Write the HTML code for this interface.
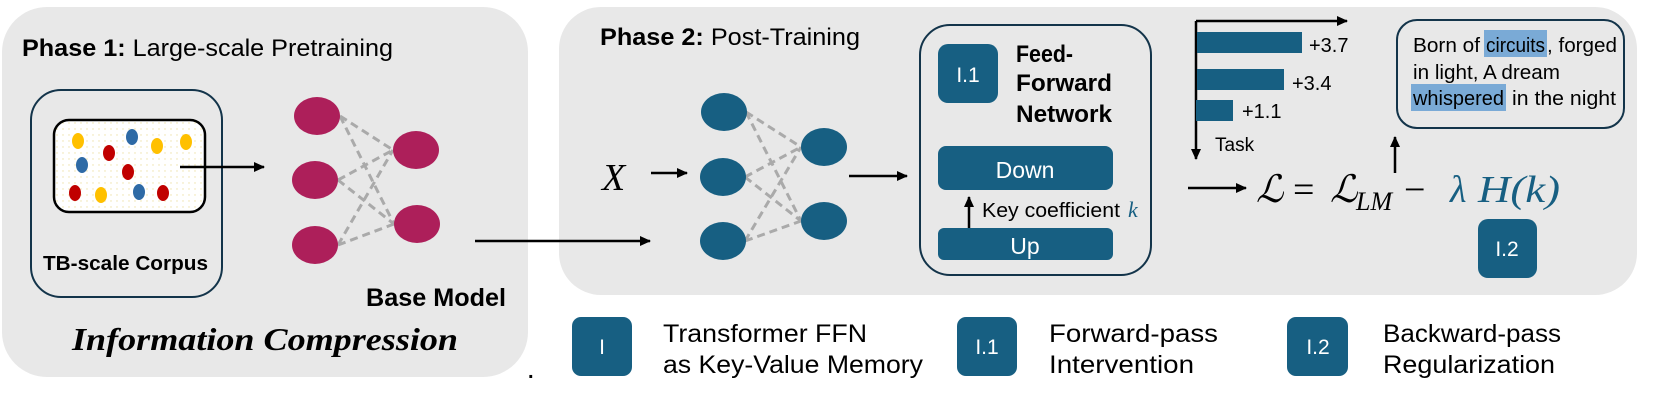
<!DOCTYPE html>
<html><head><meta charset="utf-8"><style>
html,body{margin:0;padding:0;background:#fff;}
svg{display:block;}
text{font-family:"Liberation Sans",sans-serif;}
text.m{font-family:"Liberation Serif","DejaVu Serif",serif;}
</style></head><body>
<svg width="1660" height="407" viewBox="0 0 1660 407" xmlns="http://www.w3.org/2000/svg">
<defs>
<marker id="ah" markerWidth="11" markerHeight="10" refX="10" refY="5" orient="auto" markerUnits="userSpaceOnUse"><path d="M0,0 L11,5 L0,10 z" fill="#000"/></marker>
<pattern id="dots" width="6" height="6" patternUnits="userSpaceOnUse"><rect width="6" height="6" fill="#fff"/><circle cx="3" cy="3" r="0.7" fill="#eee2a8"/></pattern>
</defs>
<!-- Phase 1 panel -->
<rect x="2" y="7" width="526" height="370" rx="45" fill="#e8e8e8"/>
<text x="22" y="56" font-size="24" textLength="371" lengthAdjust="spacingAndGlyphs"><tspan font-weight="bold">Phase 1:</tspan> Large-scale Pretraining</text>
<rect x="31" y="90" width="191" height="207" rx="30" fill="none" stroke="#13344a" stroke-width="2"/>
<rect x="54" y="120" width="151" height="92" rx="15" fill="url(#dots)" stroke="#000" stroke-width="2.5"/>
<g>
<ellipse cx="78" cy="141" rx="6" ry="8" fill="#FFC000"/>
<ellipse cx="109" cy="153" rx="6" ry="8" fill="#C00000"/>
<ellipse cx="132" cy="137" rx="6" ry="8" fill="#2E6AA6"/>
<ellipse cx="157" cy="146" rx="6" ry="8" fill="#FFC000"/>
<ellipse cx="186" cy="142" rx="6" ry="8" fill="#FFC000"/>
<ellipse cx="82" cy="165" rx="6" ry="8" fill="#2E6AA6"/>
<ellipse cx="128" cy="172" rx="6" ry="8" fill="#C00000"/>
<ellipse cx="75" cy="193" rx="6" ry="8" fill="#C00000"/>
<ellipse cx="101" cy="195" rx="6" ry="8" fill="#FFC000"/>
<ellipse cx="139" cy="192" rx="6" ry="8" fill="#2E6AA6"/>
<ellipse cx="163" cy="193" rx="6" ry="8" fill="#C00000"/>
</g>
<line x1="180" y1="167" x2="264" y2="167" stroke="#000" stroke-width="2.5" marker-end="url(#ah)"/>
<text x="43" y="270" font-size="20" font-weight="bold" textLength="165" lengthAdjust="spacingAndGlyphs">TB-scale Corpus</text>
<g stroke="#aaa" stroke-width="3" stroke-dasharray="8,5" fill="none">
<line x1="340" y1="116" x2="393" y2="150"/><line x1="340" y1="116" x2="394" y2="224"/>
<line x1="338" y1="180" x2="393" y2="150"/><line x1="338" y1="180" x2="394" y2="224"/>
<line x1="338" y1="245" x2="393" y2="150"/><line x1="338" y1="245" x2="394" y2="224"/>
</g>
<g fill="#AD1F5A">
<ellipse cx="317" cy="116" rx="23" ry="19"/><ellipse cx="315" cy="180" rx="23" ry="19"/><ellipse cx="315" cy="245" rx="23" ry="19"/>
<ellipse cx="416" cy="150" rx="23" ry="19"/><ellipse cx="417" cy="224" rx="23" ry="19"/>
</g>
<text x="366" y="306" font-size="25" font-weight="bold" textLength="140" lengthAdjust="spacingAndGlyphs">Base Model</text>
<text class="m" x="72" y="350" font-size="32" font-weight="bold" font-style="italic" textLength="386" lengthAdjust="spacingAndGlyphs">Information Compression</text>

<!-- Phase 2 panel -->
<rect x="559" y="7" width="1078" height="288" rx="42" fill="#e8e8e8"/>
<line x1="475" y1="241" x2="650" y2="241" stroke="#000" stroke-width="2.5" marker-end="url(#ah)"/>
<text x="600" y="45" font-size="24" textLength="260" lengthAdjust="spacingAndGlyphs"><tspan font-weight="bold">Phase 2:</tspan> Post-Training</text>
<text class="m" x="602" y="190" font-size="38" font-style="italic">X</text>
<line x1="651" y1="173" x2="687" y2="173" stroke="#000" stroke-width="2.5" marker-end="url(#ah)"/>
<g stroke="#aaa" stroke-width="3" stroke-dasharray="8,5" fill="none">
<line x1="746" y1="112" x2="801" y2="147"/><line x1="746" y1="112" x2="801" y2="221"/>
<line x1="745" y1="177" x2="801" y2="147"/><line x1="745" y1="177" x2="801" y2="221"/>
<line x1="745" y1="241" x2="801" y2="147"/><line x1="745" y1="241" x2="801" y2="221"/>
</g>
<g fill="#175F82">
<ellipse cx="724" cy="112" rx="23" ry="19"/><ellipse cx="723" cy="177" rx="23" ry="19"/><ellipse cx="723" cy="241" rx="23" ry="19"/>
<ellipse cx="824" cy="147" rx="23" ry="19"/><ellipse cx="824" cy="221" rx="23" ry="19"/>
</g>
<line x1="849" y1="176" x2="907" y2="176" stroke="#000" stroke-width="2.5" marker-end="url(#ah)"/>
<!-- FFN box -->
<rect x="920" y="25" width="231" height="250" rx="30" fill="none" stroke="#13344a" stroke-width="2"/>
<rect x="938" y="44" width="60" height="59" rx="10" fill="#175F82"/>
<text x="968" y="82" font-size="21" fill="#fff" text-anchor="middle">I.1</text>
<text x="1016" y="62" font-size="24" font-weight="bold" textLength="57" lengthAdjust="spacingAndGlyphs">Feed-</text>
<text x="1016" y="91" font-size="24" font-weight="bold" textLength="96" lengthAdjust="spacingAndGlyphs">Forward</text>
<text x="1016" y="122" font-size="24" font-weight="bold" textLength="96" lengthAdjust="spacingAndGlyphs">Network</text>
<rect x="938" y="146" width="175" height="44" rx="8" fill="#175F82"/>
<text x="1025" y="178" font-size="23" fill="#fff" text-anchor="middle">Down</text>
<line x1="969" y1="229" x2="969" y2="197" stroke="#000" stroke-width="2.5" marker-end="url(#ah)"/>
<text x="982" y="217" font-size="20" textLength="138" lengthAdjust="spacingAndGlyphs">Key coefficient</text>
<text class="m" x="1128" y="217" font-size="22" fill="#175F82" font-style="italic">k</text>
<rect x="938" y="228" width="175" height="32" rx="6" fill="#175F82"/>
<text x="1025" y="254" font-size="23" fill="#fff" text-anchor="middle">Up</text>
<!-- bar chart -->
<line x1="1196" y1="21" x2="1196" y2="159" stroke="#000" stroke-width="2.5" marker-end="url(#ah)"/>
<line x1="1196" y1="21" x2="1347" y2="21" stroke="#000" stroke-width="2.5" marker-end="url(#ah)"/>
<rect x="1197" y="32" width="105" height="21" fill="#175F82"/>
<rect x="1197" y="69" width="87" height="21" fill="#175F82"/>
<rect x="1196" y="100" width="37" height="21" fill="#175F82"/>
<text x="1309" y="52" font-size="20">+3.7</text>
<text x="1292" y="90" font-size="20">+3.4</text>
<text x="1242" y="118" font-size="20">+1.1</text>
<text x="1215" y="151" font-size="19">Task</text>
<!-- poem box -->
<rect x="1397" y="20" width="227" height="108" rx="20" fill="none" stroke="#13344a" stroke-width="2"/>
<rect x="1484" y="30" width="63" height="27" fill="#7aaad6"/>
<rect x="1411" y="84" width="95" height="27" fill="#7aaad6"/>
<text x="1413" y="52" font-size="20" textLength="67" lengthAdjust="spacingAndGlyphs">Born of</text>
<text x="1486" y="52" font-size="20" textLength="59" lengthAdjust="spacingAndGlyphs">circuits</text>
<text x="1547" y="52" font-size="20" textLength="70" lengthAdjust="spacingAndGlyphs">, forged</text>
<text x="1413" y="79" font-size="20" textLength="147" lengthAdjust="spacingAndGlyphs">in light, A dream</text>
<text x="1413" y="105" font-size="20" textLength="91" lengthAdjust="spacingAndGlyphs">whispered</text>
<text x="1512" y="105" font-size="20" textLength="104" lengthAdjust="spacingAndGlyphs">in the night</text>
<line x1="1395" y1="173" x2="1395" y2="137" stroke="#000" stroke-width="2.5" marker-end="url(#ah)"/>
<!-- formula -->
<line x1="1188" y1="188" x2="1246" y2="188" stroke="#000" stroke-width="2.5" marker-end="url(#ah)"/>
<text class="m" x="1256" y="202" font-size="38" font-style="italic">ℒ</text>
<text class="m" x="1293" y="202" font-size="38">=</text>
<text class="m" x="1330" y="202" font-size="38" font-style="italic">ℒ</text>
<text class="m" x="1356" y="210" font-size="26" font-style="italic">LM</text>
<text class="m" x="1404" y="202" font-size="38">−</text>
<text class="m" x="1450" y="202" font-size="38" font-style="italic" fill="#175F82">λ</text>
<text class="m" x="1478" y="202" font-size="38" font-style="italic" fill="#175F82" textLength="82" lengthAdjust="spacingAndGlyphs">H(k)</text>
<rect x="1478" y="219" width="59" height="59" rx="10" fill="#175F82"/>
<text x="1507" y="256" font-size="21" fill="#fff" text-anchor="middle">I.2</text>
<!-- legend -->
<text x="528" y="378" font-size="20" font-weight="bold">.</text>
<rect x="572" y="317" width="60" height="59" rx="9" fill="#175F82"/>
<text x="602" y="354" font-size="21" fill="#fff" text-anchor="middle">I</text>
<text x="663" y="342" font-size="25" textLength="204" lengthAdjust="spacingAndGlyphs">Transformer FFN</text>
<text x="663" y="373" font-size="25" textLength="260" lengthAdjust="spacingAndGlyphs">as Key-Value Memory</text>
<rect x="957" y="317" width="60" height="59" rx="9" fill="#175F82"/>
<text x="987" y="354" font-size="21" fill="#fff" text-anchor="middle">I.1</text>
<text x="1049" y="342" font-size="25" textLength="169" lengthAdjust="spacingAndGlyphs">Forward-pass</text>
<text x="1049" y="373" font-size="25" textLength="145" lengthAdjust="spacingAndGlyphs">Intervention</text>
<rect x="1287" y="317" width="61" height="59" rx="9" fill="#175F82"/>
<text x="1318" y="354" font-size="21" fill="#fff" text-anchor="middle">I.2</text>
<text x="1383" y="342" font-size="25" textLength="178" lengthAdjust="spacingAndGlyphs">Backward-pass</text>
<text x="1383" y="373" font-size="25" textLength="172" lengthAdjust="spacingAndGlyphs">Regularization</text>
</svg>
</body></html>
